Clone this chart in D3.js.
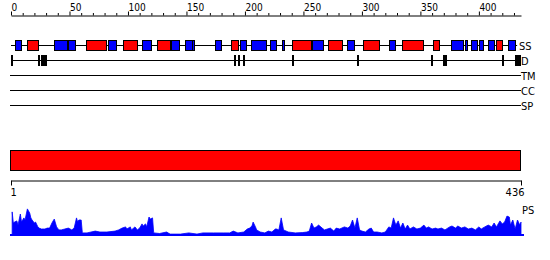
<!DOCTYPE html>
<html>
<head>
<meta charset="utf-8">
<script src="https://cdn.jsdelivr.net/npm/d3@7"></script>
<style>
body { margin: 0; background: #fff; }
text { font-family: "DejaVu Sans Condensed", "DejaVu Sans", sans-serif; }
</style>
</head>
<body>
<script>
var w = 550;
var h = 260;
var seqLength = 436;

// secondary structure: helix (red) / strand (blue)
var ssStart = [3, 14, 37, 49, 64, 83, 96, 112, 125, 137, 149, 155, 174, 188, 196, 205, 221, 232, 240, 257, 271, 287, 301, 323, 334, 361, 376, 388, 393, 400, 408, 415, 425];
var ssEnd   = [8, 23, 48, 55, 81, 90, 108, 120, 136, 144, 155, 157, 179, 194, 201, 218, 226, 234, 256, 266, 283, 293, 315, 328, 352, 366, 386, 390, 398, 403, 413, 420, 431];
var ssType  = ["E", "H", "E", "E", "H", "E", "H", "E", "H", "E", "E", "E", "E", "H", "E", "E", "E", "E", "H", "E", "H", "E", "H", "E", "H", "H", "E", "E", "E", "E", "E", "H", "E"];

// disorder segments
var dStart = [0, 23, 26, 191, 194, 198, 240, 296, 359, 369, 420, 431];
var dEnd   = [2, 24, 31, 192, 195, 200, 241, 297, 360, 372, 422, 436];

var emptyTracks = ["TM", "CC", "SP"];

// PS profile
var psRes = [1, 2, 3, 5, 6, 8, 9, 11, 12, 14,
  16, 17, 18, 20, 21, 23, 24, 26, 29, 31,
  33, 35, 36, 37, 39, 41, 43, 46, 49, 52,
  54, 56, 57, 58, 60, 61, 65, 72, 76, 82,
  89, 92, 95, 98, 99, 102, 103, 106, 108, 110,
  112, 113, 115, 116, 118, 119, 121, 122, 127, 133,
  136, 145, 152, 159, 164, 173, 182, 187, 190, 194,
  199, 202, 204, 206, 207, 209, 210, 213, 217, 220,
  223, 226, 227, 229, 231, 233, 237, 243, 249, 253,
  255, 257, 259, 261, 263, 266, 268, 273, 276, 278,
  281, 285, 288, 290, 292, 294, 296, 298, 300, 303,
  306, 308, 310, 313, 317, 320, 323, 325, 327, 329,
  331, 333, 335, 337, 339, 341, 344, 347, 350, 353,
  355, 357, 360, 363, 365, 368, 371, 375, 377, 380,
  382, 385, 388, 391, 394, 397, 400, 402, 405, 408,
  411, 413, 415, 418, 420, 422, 424, 426, 427, 429,
  431, 433, 435, 436];
var psVal = [.77, .40, .43, .47, .33, .70, .43, .57, .50, .87,
  .73, .57, .50, .40, .43, .27, .23, .20, .20, .23,
  .23, .40, .47, .53, .27, .17, .17, .20, .23, .17,
  .23, .57, .43, .50, .50, .07, .07, .13, .10, .10,
  .13, .17, .23, .27, .20, .27, .17, .27, .17, .23,
  .37, .30, .37, .27, .60, .53, .57, .07, .05, .10,
  .03, .03, .07, .03, .07, .07, .07, .07, .13, .07,
  .10, .20, .23, .30, .43, .27, .17, .10, .07, .13,
  .10, .20, .20, .17, .57, .17, .10, .07, .08, .10,
  .13, .40, .23, .27, .33, .23, .17, .23, .13, .23,
  .20, .27, .23, .30, .50, .23, .57, .17, .13, .10,
  .20, .23, .10, .10, .07, .10, .27, .23, .57, .33,
  .47, .23, .40, .20, .33, .20, .27, .20, .23, .33,
  .23, .27, .20, .23, .20, .23, .17, .27, .30, .23,
  .30, .23, .27, .20, .23, .17, .27, .20, .27, .33,
  .27, .40, .27, .47, .37, .43, .63, .60, .33, .50,
  .20, .50, .33, .43];

var svg = d3.select("body")
	.append("svg")
		.attr("width", w)
		.attr("height", h);

var x = d3.scaleLinear().domain([0, seqLength]).range([11, 521]);

function ssColor(t){
	if(t == "H"){
		return "#FF0000";
	} else {
		return "#0000FF";
	}
}

// top ruler
var topAxis = d3.axisTop(x)
	.tickValues(d3.range(0, 431, 10))
	.tickSizeOuter(0)
	.tickFormat(function(d){ return d % 50 == 0 ? d : ""; });
var gTop = svg.append("g")
	.attr("transform", "translate(0,15.5)")
	.call(topAxis);
gTop.select(".domain").attr("stroke", "#000");
gTop.selectAll(".tick line")
	.attr("y2", function(d){ return d % 50 == 0 ? -4 : -2.5; });
gTop.selectAll(".tick text")
	.attr("text-anchor", "start")
	.attr("x", 0)
	.attr("y", -5)
	.attr("font-size", 10)
	.attr("font-family", null)
	.attr("fill", "#000");

// SS track
svg.append("line")
	.attr("x1", x(0)).attr("x2", x(ssEnd[ssEnd.length - 1]) + 2)
	.attr("y1", 45.5).attr("y2", 45.5)
	.attr("stroke", "#000");
svg.selectAll("rect.ss")
	.data(ssStart)
	.enter()
	.append("rect")
		.attr("class", "ss")
		.attr("x", function(d){ return Math.round(x(d)) + 0.5; })
		.attr("y", 40.5)
		.attr("width", function(d, i){ return Math.max(2, Math.round(x(ssEnd[i]) - x(d))); })
		.attr("height", 10)
		.attr("fill", function(d, i){ return ssColor(ssType[i]); })
		.attr("stroke", "#000");
svg.append("text").attr("x", 519).attr("y", 49.5).attr("font-size", 11).text("SS");

// D track
svg.append("line")
	.attr("x1", x(0)).attr("x2", x(seqLength))
	.attr("y1", 60.5).attr("y2", 60.5)
	.attr("stroke", "#000");
svg.selectAll("rect.d")
	.data(dStart)
	.enter()
	.append("rect")
		.attr("class", "d")
		.attr("x", function(d){ return Math.round(x(d)); })
		.attr("y", 55)
		.attr("width", function(d, i){ return Math.max(2, Math.round(x(dEnd[i]) - x(d))); })
		.attr("height", 11)
		.attr("fill", "#000");
svg.append("text").attr("x", 521).attr("y", 64.5).attr("font-size", 11).text("D");

// empty tracks
emptyTracks.forEach(function(t, i){
	var y = 75.5 + i * 15;
	svg.append("line")
		.attr("x1", 10).attr("x2", 521)
		.attr("y1", y).attr("y2", y)
		.attr("stroke", "#000");
	svg.append("text").attr("x", 521).attr("y", y + 4).attr("font-size", 11).text(t);
});

// full-length bar
svg.append("rect")
	.attr("x", x(0) - 0.5)
	.attr("y", 150.5)
	.attr("width", x(seqLength) - x(0))
	.attr("height", 20)
	.attr("fill", "#FF0000")
	.attr("stroke", "#000");

// bottom ruler
var botAxis = d3.axisBottom(x)
	.tickValues([0, seqLength])
	.tickSizeOuter(0)
	.tickSizeInner(5)
	.tickFormat(function(d){ return d == 0 ? 1 : d; });
var gBot = svg.append("g")
	.attr("transform", "translate(0,180.5)")
	.call(botAxis);
gBot.select(".domain").attr("stroke", "#000");
gBot.selectAll(".tick text")
	.attr("text-anchor", function(d){ return d == 0 ? "start" : "end"; })
	.attr("x", function(d){ return d == 0 ? -1 : 3; })
	.attr("y", 8)
	.attr("font-size", 11)
	.attr("font-family", null)
	.attr("fill", "#000");

// PS profile
var yPs = d3.scaleLinear().domain([0, 1]).range([235, 205]);
var area = d3.area()
	.x(function(d){ return x(d); })
	.y0(yPs(0))
	.y1(function(d, i){ return yPs(psVal[i]); });
svg.append("path")
	.datum(psRes)
	.attr("d", area)
	.attr("fill", "#0000FF")
	.attr("stroke", "#0000FF")
	.attr("stroke-width", 0.8);
svg.append("line")
	.attr("x1", 10).attr("x2", 524)
	.attr("y1", 235).attr("y2", 235)
	.attr("stroke", "#0000FF")
	.attr("stroke-width", 2);
svg.append("text").attr("x", 522).attr("y", 214).attr("font-size", 11).text("PS");
</script>
</body>
</html>
